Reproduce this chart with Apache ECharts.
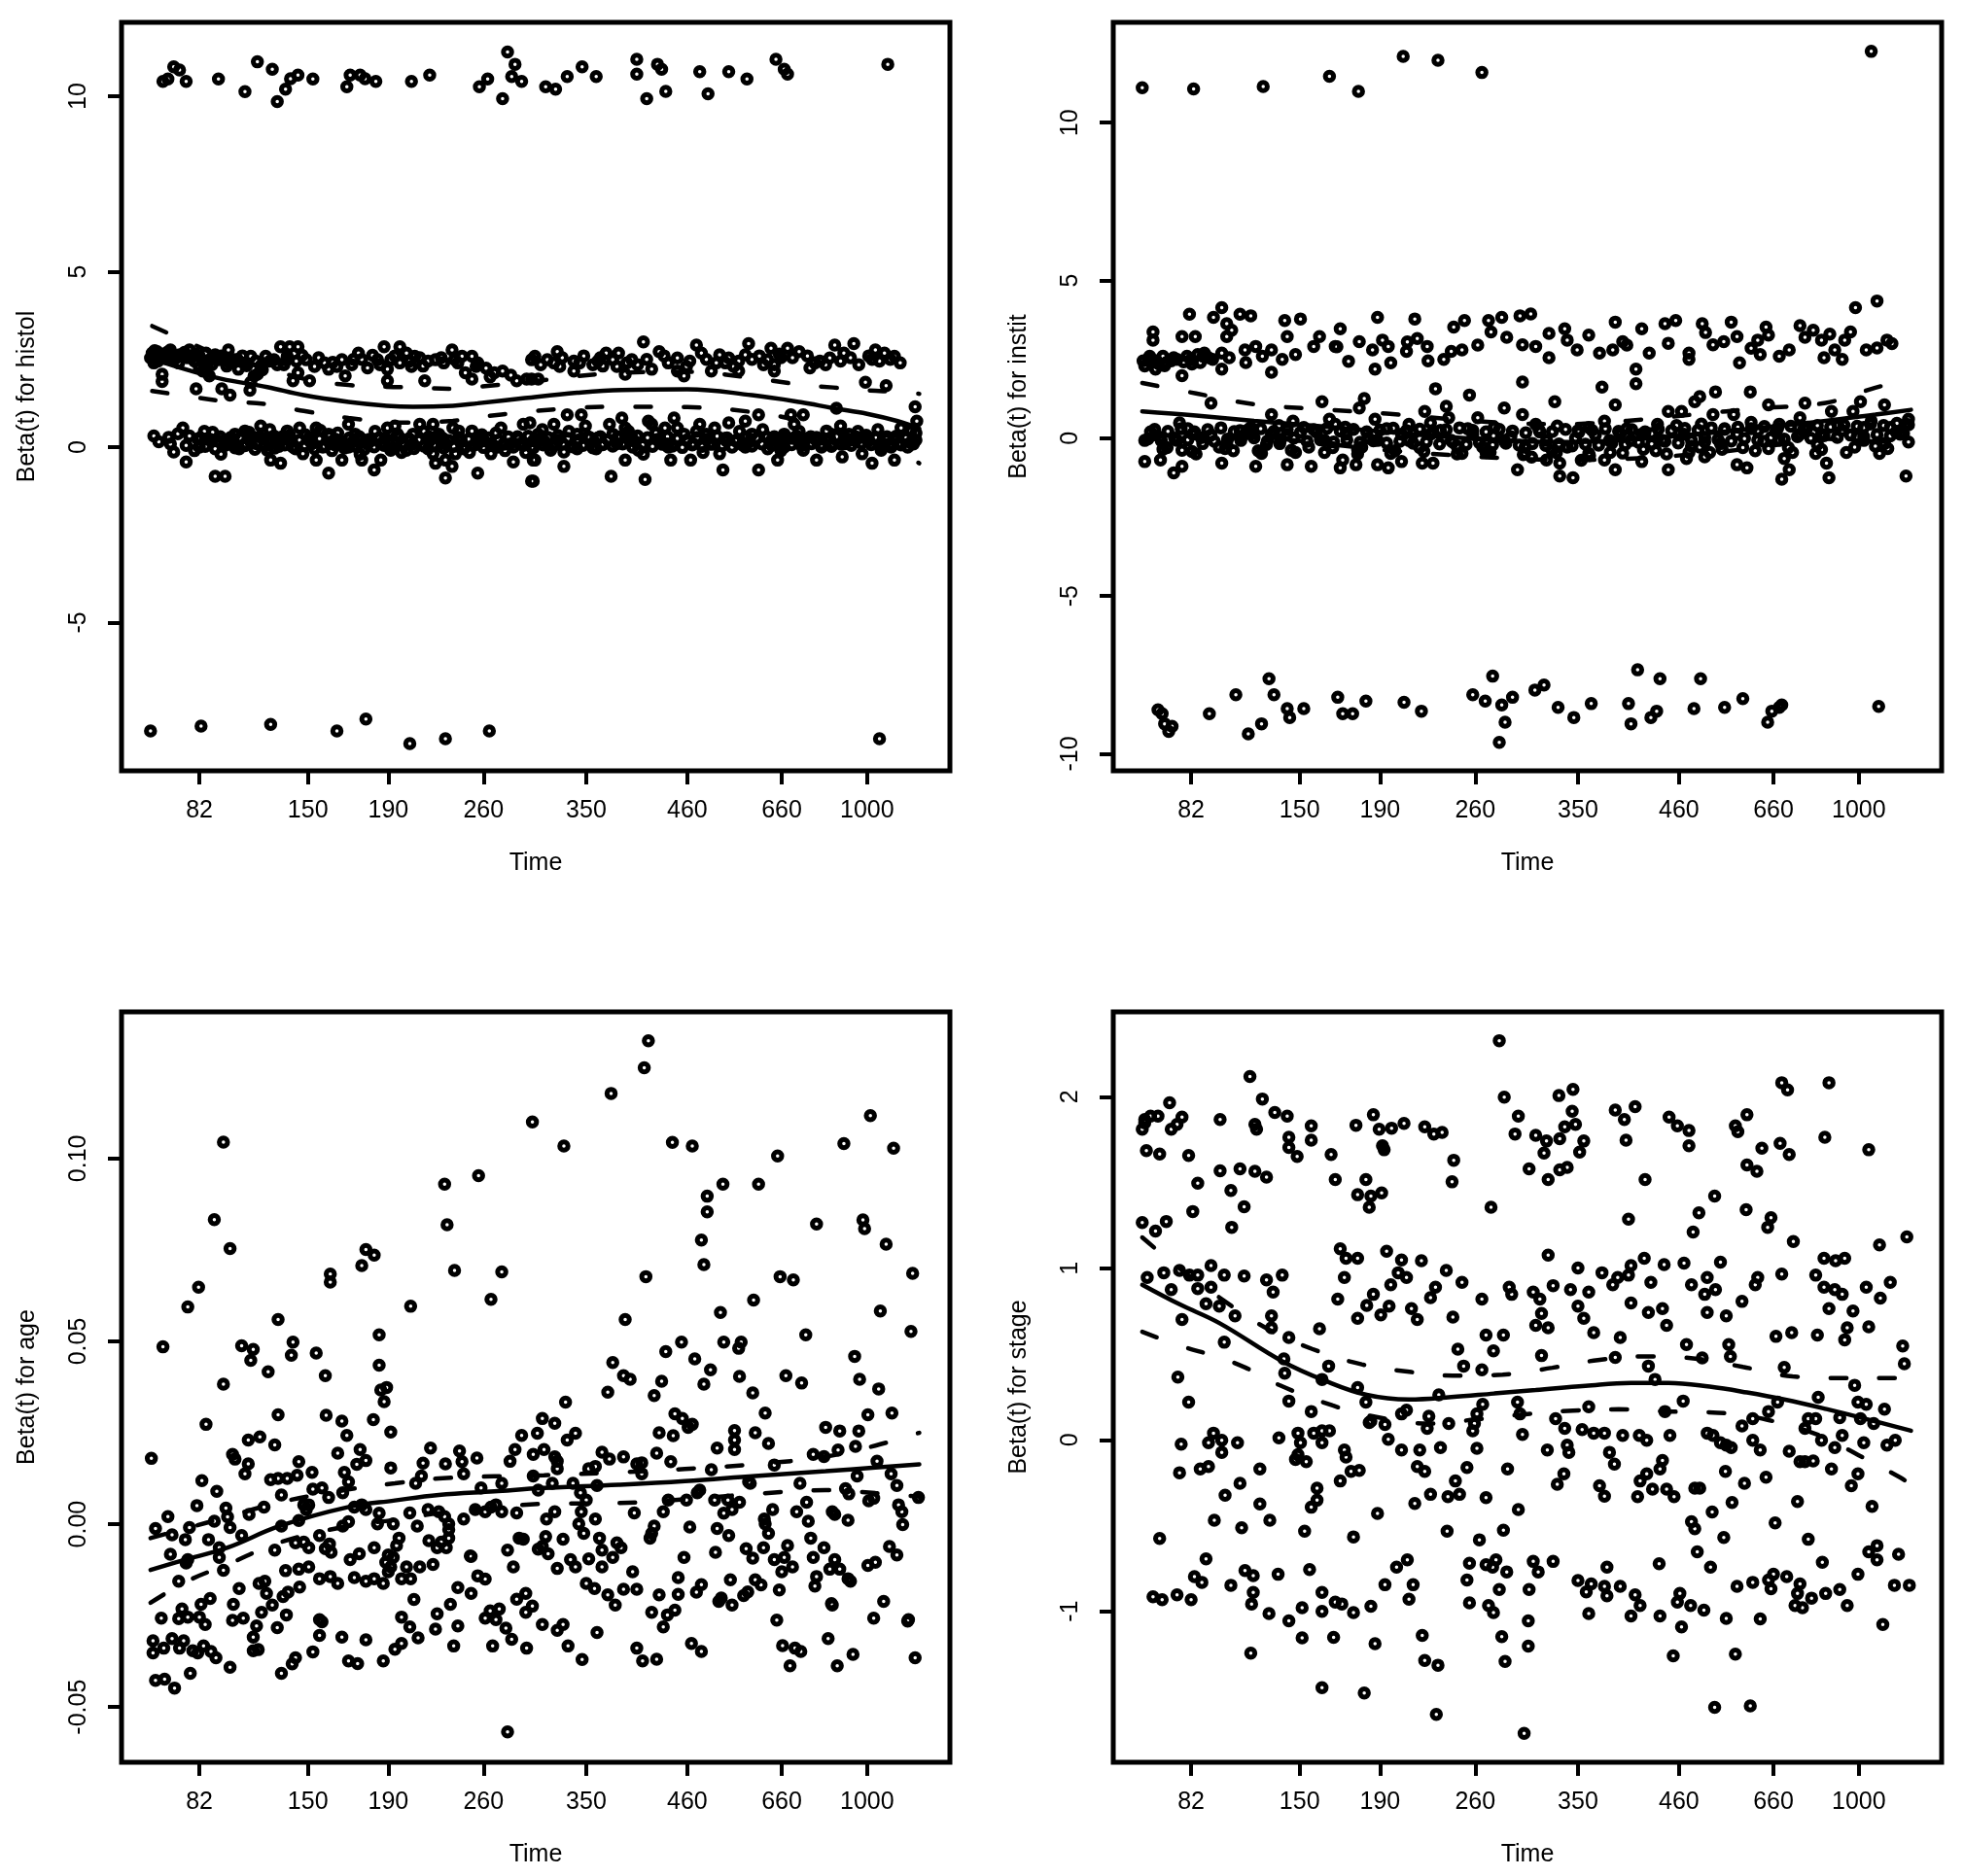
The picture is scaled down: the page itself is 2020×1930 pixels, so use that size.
<!DOCTYPE html>
<html>
<head>
<meta charset="utf-8">
<script src="https://cdn.jsdelivr.net/npm/echarts@6/dist/echarts.min.js"></script>
<style>
  html, body { margin: 0; padding: 0; background: #fff; }
  #zph { width: 2020px; height: 1930px; }
</style>
</head>
<body>
<div id="zph"></div>
<script>
// x axis is the transformed time scale (0..100 across the plot box)
const xTickPos = [9.4, 22.5, 32.2, 43.7, 56.1, 68.3, 79.7, 90.0];
const xTickLabels = ['82', '150', '190', '260', '350', '460', '660', '1000'];

// ---- histol ----
const histolTicks = [-5, 0, 5, 10];
const histolPoints = [
  [5.0,10.42],[5.6,10.49],[6.3,10.84],[7.0,10.75],[7.8,10.42],[11.7,10.49],[14.9,10.13],[16.4,10.98],[18.2,10.77],[18.8,9.85],
  [19.8,10.2],[20.4,10.5],[21.3,10.6],[23.1,10.49],[27.2,10.27],[27.6,10.6],[28.8,10.6],[29.4,10.5],[30.7,10.42],[35.0,10.42],
  [37.2,10.6],[43.2,10.27],[44.2,10.49],[46.6,11.26],[47.5,10.91],[47.1,10.56],[48.3,10.42],[46.0,9.93],[51.2,10.27],[52.4,10.2],
  [53.8,10.56],[55.6,10.84],[57.3,10.56],[62.2,11.05],[62.2,10.63],[63.4,9.93],[64.7,10.91],[65.2,10.77],[65.7,10.14],[69.8,10.7],
  [70.8,10.07],[73.3,10.7],[75.5,10.49],[79.0,11.05],[80.0,10.77],[80.4,10.63],[92.5,10.91],
  [3.5,-8.09],[9.6,-7.95],[18.0,-7.9],[26.0,-8.09],[29.5,-7.75],[34.8,-8.45],[39.1,-8.31],[44.4,-8.09],[91.5,-8.31],
  [3.7,2.68],[4.3,2.72],[5.1,2.59],[5.9,2.77],[4.9,2.08],[4.9,1.87],[8.2,2.77],[8.4,2.54],[9.4,2.59],[9.4,2.26],
  [10.4,2.40],[11.7,2.49],[12.9,2.77],[13.5,2.49],[12.7,2.31],[14.1,2.22],[14.9,2.40],[15.6,2.59],[16.0,2.03],[16.8,2.31],
  [17.4,2.59],[18.4,2.49],[19.2,2.86],[20.0,2.59],[20.3,2.86],[21.3,2.86],[21.1,2.45],[21.3,2.12],[22.3,2.49],[20.7,1.89],
  [22.7,1.89],[24.5,2.40],[25.0,2.22],[26.6,2.49],[27.0,2.03],[28.6,2.68],[29.7,2.26],[30.9,2.49],[31.7,2.86],[32.5,2.49],
  [32.1,2.22],[32.1,1.89],[33.6,2.86],[34.4,2.68],[33.6,2.40],[35.4,2.59],[36.4,2.31],[37.0,2.45],[37.9,2.49],[36.6,1.89],
  [39.9,2.77],[41.1,2.59],[42.3,2.59],[41.5,2.12],[42.3,1.94],[45.0,2.12],[46.0,2.17],[47.7,1.89],[48.9,1.94],[49.9,2.59],
  [9.0,1.66],[12.1,1.66],[13.1,1.48],[15.5,1.62],[3.5,2.54],[3.9,2.40],[6.3,2.49],[7.0,2.63],[10.2,2.68],[11.3,2.63],
  [9.8,2.17],[10.6,2.03],[15.6,1.85],[16.4,2.08],
  [4.0,2.75],[4.6,2.6],[5.5,2.7],[6.6,2.55],[7.6,2.7],[8.8,2.45],[10.9,2.55],[12.3,2.5],[14.6,2.6],[17.9,2.45],
  [19.6,2.35],[23.3,2.3],[26.0,2.3],[28.0,2.5],[31.2,2.35],[35.0,2.3],[38.6,2.55],[40.6,2.4],[43.0,2.4],[44.5,2.0],
  [49.5,2.49],[51.4,2.49],[52.6,2.72],[52.2,2.40],[54.6,2.45],[54.6,2.17],[56.9,2.35],[58.1,2.31],[58.5,2.68],[59.3,2.49],
  [60.0,2.68],[60.8,2.08],[61.6,2.49],[63.0,3.00],[64.0,2.22],[64.9,2.72],[67.1,2.54],[67.1,2.17],[67.9,2.03],[69.4,2.91],
  [70.0,2.68],[71.2,2.17],[72.2,2.63],[73.3,2.54],[74.5,2.45],[74.5,2.17],[75.7,2.95],[75.3,2.63],[78.4,2.82],[78.0,2.49],
  [78.8,2.35],[78.8,2.17],[80.4,2.82],[81.8,2.72],[83.1,2.26],[84.3,2.45],[85.5,2.54],[86.1,2.91],[87.2,2.68],[88.4,2.95],
  [89.0,2.35],[91.0,2.77],[92.1,2.68],[93.3,2.59],[89.8,1.85],[92.3,1.75],[95.8,1.15],[49.5,1.94],[50.3,1.94],
  [50.6,2.35],[53.2,2.55],[55.8,2.6],[57.5,2.45],[62.3,2.35],[66.0,2.4],[68.6,2.45],[71.8,2.4],[73.9,2.3],[77.0,2.6],
  [79.6,2.55],[82.8,2.6],[86.8,2.45],[90.2,2.6],[91.5,2.45],
  [3.9,0.32],[5.7,0.28],[6.3,-0.14],[7.4,0.55],[8.2,0.32],[7.8,-0.42],[7.8,0.05],[9.2,0.23],[11.0,0.42],[11.3,-0.83],
  [12.5,-0.83],[13.7,0.37],[14.9,0.46],[16.0,0.28],[16.8,0.60],[17.2,0.23],[17.6,-0.09],[18.0,-0.37],[19.2,-0.46],[18.8,0.18],
  [20.0,0.46],[20.3,0.18],[21.5,0.55],[21.9,-0.19],[23.5,0.55],[23.5,-0.37],[25.0,0.37],[25.0,-0.74],[26.6,0.09],[26.6,-0.37],
  [27.4,0.65],[28.2,0.37],[29.0,-0.37],[29.7,0.09],[30.5,-0.65],[30.1,0.18],[31.3,-0.37],[32.1,0.55],[33.3,0.37],[34.0,0.09],
  [35.2,0.37],[36.0,0.65],[37.2,0.18],[37.6,0.65],[38.3,0.37],[37.6,-0.19],[37.9,-0.46],[39.1,-0.37],[39.1,-0.88],[40.3,-0.19],
  [39.9,-0.55],[40.7,0.46],[42.3,0.46],[43.0,-0.74],[43.8,0.18],[44.6,-0.19],[45.8,0.55],[46.9,0.09],[47.3,-0.42],[48.5,0.65],
  [49.7,0.18],[49.7,-0.37],[49.5,-0.97],[11.7,0.18],[12.9,0.09],[14.9,0.09],[18.4,0.32],[20.7,0.0],[22.7,0.18],[24.3,0.0],
  [25.8,0.23],[27.4,0.0],[29.0,0.23],[31.3,0.09],[32.5,-0.09],[34.4,-0.09],[35.2,0.09],[39.1,0.09],[41.5,0.0],[43.0,0.09],
  [45.4,0.0],[48.1,0.09],[10.2,0.23],[9.4,0.0],[5.9,0.09],
  [4.5,0.15],[6.8,0.38],[8.8,-0.1],[10.0,0.45],[12.0,-0.2],[13.2,0.28],[14.2,-0.05],[15.4,0.42],[16.3,0.1],[17.9,0.5],
  [19.0,0.02],[19.6,0.32],[21.0,-0.05],[22.2,0.35],[23.0,0.1],[24.0,0.48],[25.4,-0.1],[26.1,0.4],[27.9,0.15],[28.8,-0.2],
  [30.6,0.45],[31.8,0.25],[33.0,0.6],[33.8,-0.15],[34.8,0.2],[36.5,0.45],[37.0,-0.05],[38.8,0.25],[40.0,0.55],[41.0,0.2],
  [42.0,-0.15],[43.5,0.35],[44.5,0.1],[45.2,0.4],[46.3,-0.1],[47.8,0.3],[48.8,-0.15],
  [49.3,0.69],[49.5,0.0],[49.9,-0.37],[50.3,0.37],[51.8,-0.09],[52.2,0.65],[53.4,-0.14],[53.8,0.92],[55.5,0.92],[55.0,0.37],
  [57.3,-0.05],[58.9,0.65],[59.3,0.37],[60.4,0.83],[60.8,0.55],[60.8,-0.37],[62.4,-0.09],[63.6,0.74],[64.0,0.65],[65.1,0.18],
  [66.3,-0.37],[66.7,0.83],[67.1,0.55],[67.9,0.37],[68.7,-0.37],[69.8,0.65],[71.0,0.09],[72.2,-0.19],[72.6,-0.65],[73.3,0.69],
  [74.1,0.18],[75.3,0.74],[76.1,0.37],[76.9,0.92],[76.9,-0.65],[78.0,-0.05],[79.2,-0.37],[80.0,0.37],[80.8,0.92],[81.2,0.65],
  [82.3,0.92],[82.3,-0.09],[83.9,-0.37],[83.9,0.18],[85.1,0.46],[86.3,1.11],[87.0,-0.28],[87.8,0.37],[89.4,-0.19],[90.2,0.18],
  [90.6,-0.46],[91.7,-0.09],[92.9,0.0],[93.3,-0.37],[94.1,0.55],[95.3,0.46],[96.0,0.74],[95.6,0.09],[59.1,-0.83],[63.2,-0.92],
  [49.7,-0.97],[53.4,-0.55],[93.3,0.23],[51.0,0.18],[56.5,0.28],[58.1,0.09],[61.6,0.28],[65.9,0.09],[69.0,0.09],[70.6,0.37],
  [73.0,0.18],[75.3,0.0],[78.4,0.18],[80.0,0.0],[82.0,0.18],[85.9,0.09],[88.6,0.18],[91.0,0.28],[94.9,0.0],
  [50.8,0.5],[52.7,0.2],[54.0,0.45],[55.0,-0.05],[56.0,0.6],[57.8,0.3],[59.8,0.1],[61.2,0.45],[62.0,0.15],[63.0,-0.2],
  [64.5,0.4],[65.6,0.55],[66.0,0.0],[68.2,0.2],[69.4,0.45],[70.2,-0.15],[71.6,0.55],[72.8,0.25],[74.6,0.45],[75.8,0.15],
  [77.4,0.5],[78.8,0.3],[79.6,-0.1],[81.0,0.25],[81.8,0.45],[83.2,0.3],[84.5,0.0],[85.5,0.25],[86.8,0.6],[87.4,0.1],
  [88.9,0.45],[89.8,0.25],[91.3,0.5],[92.4,0.3],[93.8,0.1],[94.6,0.3],[95.9,0.4]
];
// tightly packed points forming the solid black cores of the two histol bands
const histolCorePoints = [
  [9.5,0.27],[10.7,0.22],[11.9,0.3],[13.1,0.2],[14.3,0.26],[15.5,0.18],[16.7,0.3],[17.9,0.22],[19.1,0.27],[20.3,0.33],
  [21.5,0.2],[22.7,0.28],[23.9,0.24],[25.1,0.31],[26.3,0.19],[27.5,0.26],[28.7,0.3],[29.9,0.22],[31.1,0.27],[32.3,0.2],
  [33.5,0.29],[34.7,0.24],[35.9,0.21],[37.1,0.3],[38.3,0.25],[39.5,0.19],[40.7,0.28],[41.9,0.23],[43.1,0.3],[44.3,0.26],
  [45.5,0.2],[46.7,0.29],[47.9,0.24],[49.1,0.31],[50.3,0.22],[51.5,0.28],[52.7,0.33],[53.9,0.25],[55.1,0.2],[56.3,0.3],
  [57.5,0.26],[58.7,0.21],[59.9,0.29],[61.1,0.24],[62.3,0.32],[63.5,0.27],[64.7,0.22],[65.9,0.3],[67.1,0.25],[68.3,0.2],
  [69.5,0.28],[70.7,0.23],[71.9,0.31],[73.1,0.26],[74.3,0.21],[75.5,0.3],[76.7,0.25],[77.9,0.29],[79.1,0.22],[80.3,0.27],
  [81.5,0.32],[82.7,0.24],[83.9,0.28],[85.1,0.21],[86.3,0.3],[87.5,0.25],[88.7,0.29],[89.9,0.34],[91.1,0.27],[92.3,0.22],
  [93.5,0.31],[94.7,0.26],[95.9,0.2],
  [10.1,0.02],[11.3,-0.05],[12.5,0.05],[13.7,-0.02],[14.9,0.04],[16.1,-0.06],[17.3,0.03],[18.5,-0.03],[19.7,0.06],[20.9,-0.01],
  [22.1,0.04],[23.3,-0.05],[24.5,0.02],[25.7,0.07],[26.9,-0.03],[28.1,0.03],[29.3,-0.06],[30.5,0.01],[31.7,0.05],[32.9,-0.02],
  [34.1,0.04],[35.3,-0.04],[36.5,0.03],[37.7,0.06],[38.9,-0.03],[40.1,0.02],[41.3,-0.05],[42.5,0.05],[43.7,-0.01],[44.9,0.04],
  [46.1,0.08],[47.3,0.0],[48.5,0.05],[49.7,-0.03],[50.9,0.06],[52.1,0.02],[53.3,0.09],[54.5,0.01],[55.7,0.05],[56.9,-0.02],
  [58.1,0.07],[59.3,0.03],[60.5,0.09],[61.7,0.0],[62.9,0.06],[64.1,0.02],[65.3,0.08],[66.5,0.03],[67.7,-0.01],[68.9,0.06],
  [70.1,0.02],[71.3,0.08],[72.5,0.04],[73.7,0.0],[74.9,0.07],[76.1,0.03],[77.3,0.09],[78.5,0.05],[79.7,0.01],[80.9,0.07],
  [82.1,0.04],[83.3,0.1],[84.5,0.06],[85.7,0.02],[86.9,0.08],[88.1,0.05],[89.3,0.11],[90.5,0.07],[91.7,0.03],[92.9,0.1],
  [94.1,0.06],[95.3,0.12],
  [4.4,2.45],[5.4,2.52],[6.1,2.62],[6.9,2.4],[7.9,2.55],[8.9,2.65],[9.9,2.45],[10.9,2.35],[12.0,2.6],[13.0,2.42],
  [14.0,2.5],[15.1,2.32],[16.2,2.45],[17.0,2.2],[18.8,2.35],[19.9,2.48],[21.8,2.62],[23.8,2.55],[25.5,2.42],[27.8,2.35],
  [29.0,2.5],[30.3,2.62],[33.0,2.6],[34.8,2.45],[36.0,2.55],[38.9,2.4],[40.2,2.5],[42.8,2.3],[44.0,2.25],[47.0,2.05],
  [52.9,2.3],[55.3,2.4],[57.8,2.55],[59.8,2.3],[61.0,2.4],[63.4,2.5],[65.5,2.6],[68.2,2.3],[70.6,2.5],[72.9,2.4],
  [76.1,2.5],[77.5,2.35],[79.4,2.65],[81.0,2.55],[83.7,2.4],[85.0,2.35],[88.0,2.55],[90.6,2.5],[92.8,2.5],[94.0,2.4]
];
const histolFitX = [3.7, 8, 12, 17.6, 22, 27.4, 32, 35.2, 40, 43, 48.7, 55, 60.4, 68.3, 76.1, 82, 85.9, 90, 93.7, 96.3];
const histolFit = [2.52, 2.2, 1.95, 1.71, 1.48, 1.29, 1.18, 1.15, 1.18, 1.25, 1.40, 1.55, 1.63, 1.65, 1.48, 1.28, 1.11, 0.95, 0.74, 0.53];
const histolUpper = [3.45, 3.0, 2.6, 2.25, 1.95, 1.77, 1.72, 1.70, 1.66, 1.72, 1.85, 2.02, 2.12, 2.15, 1.97, 1.78, 1.70, 1.62, 1.57, 1.52];
const histolLower = [1.60, 1.45, 1.32, 1.22, 1.03, 0.83, 0.72, 0.70, 0.75, 0.85, 1.0, 1.12, 1.15, 1.14, 1.0, 0.75, 0.48, 0.2, -0.12, -0.46];

// ---- instit ----
const institTicks = [-10, -5, 0, 5, 10];
const institPoints = [
  [3.5,11.11],[9.7,11.07],[18.1,11.15],[26.1,11.47],[29.6,10.99],[35.0,12.1],[39.2,11.98],[44.5,11.59],[91.5,12.26],
  [5.4,-8.61],[5.9,-8.73],[6.2,-9.05],[6.7,-9.29],[7.1,-9.13],[11.6,-8.73],[14.8,-8.13],[16.3,-9.37],[17.9,-9.05],[18.8,-7.62],
  [19.4,-8.13],[21.0,-8.57],[21.3,-8.85],[23.0,-8.57],[27.1,-8.21],[27.7,-8.73],[28.9,-8.73],[30.5,-8.33],[35.1,-8.37],[37.2,-8.65],
  [43.4,-8.13],[44.9,-8.33],[45.8,-7.54],[46.9,-8.45],[46.6,-9.64],[47.3,-9.0],[48.2,-8.21],[50.9,-7.98],[52.0,-7.82],[53.7,-8.53],
  [55.6,-8.85],[57.7,-8.41],[62.2,-8.41],[62.5,-9.05],[63.3,-7.34],[64.9,-8.85],[65.6,-8.65],[66.0,-7.62],[70.1,-8.57],[70.9,-7.62],
  [73.8,-8.53],[76.0,-8.25],[79.0,-9.0],[79.5,-8.65],[80.4,-8.53],[80.7,-8.45],[92.4,-8.5],
  [4.8,3.37],[4.8,3.11],[3.8,2.29],[5.1,2.19],[6.4,2.4],[7.7,2.5],[8.9,2.6],[10.2,2.65],[11.5,2.55],[8.3,3.22],
  [9.9,3.22],[8.3,1.98],[9.2,3.93],[12.1,3.83],[13.1,4.14],[13.7,3.63],[14.3,3.42],[13.7,3.22],[15.3,3.93],[16.6,3.88],
  [15.9,2.80],[17.2,2.91],[13.1,2.70],[13.1,2.19],[19.1,2.80],[19.1,2.09],[20.7,3.73],[22.6,3.78],[21.0,3.22],[20.4,2.50],
  [22.0,2.65],[24.9,3.22],[24.2,2.91],[26.8,2.91],[27.4,3.47],[28.4,2.44],[29.7,3.06],[31.3,2.80],[31.9,3.83],[32.5,3.11],
  [33.2,2.91],[33.5,2.39],[31.6,2.19],[35.4,2.75],[36.4,3.78],[36.7,3.16],[37.9,2.91],[39.9,2.50],[40.8,2.75],[42.1,2.80],
  [41.1,3.52],[42.4,3.73],[45.3,3.73],[45.6,3.37],[46.9,3.83],[49.1,3.88],[50.4,3.94],[49.4,2.96],[51.0,2.91],[52.6,3.32],
  [52.6,2.55],[54.5,3.47],[54.8,3.11],[57.4,3.27],[58.7,2.70],[60.3,2.80],[60.6,3.68],[61.5,3.06],[63.8,3.47],[64.7,2.70],
  [67.0,3.01],[66.6,3.63],[67.9,3.73],[69.5,2.70],[69.5,2.50],[71.1,3.63],[72.4,2.96],[73.7,3.06],[74.6,3.68],[75.3,3.22],
  [75.6,2.39],[77.8,3.11],[79.1,3.27],[78.8,3.52],[78.1,2.65],[80.4,2.60],[81.6,2.80],[82.9,3.57],[84.5,3.42],[85.5,3.11],
  [85.8,2.55],[87.1,2.80],[88.0,2.50],[88.3,3.11],[89.0,3.37],[89.6,4.14],[92.2,4.35],[90.9,2.80],[92.2,2.86],[93.4,3.11],
  [63.1,2.19],[63.1,1.73],[49.4,1.78],[59.0,1.62],[38.9,1.57],[43.0,1.37],
  [4.2,2.5],[5.5,2.35],[6.0,2.6],[7.0,2.45],[9.5,2.35],[10.8,2.6],[12.0,2.5],[14.0,2.55],[16.0,2.4],[18.0,2.6],
  [27.0,2.9],[38.0,2.45],[44.0,2.95],[47.5,3.2],[56.0,2.8],[62.0,2.95],[71.5,3.35],[77.0,2.85],[83.5,3.2],[86.5,3.3],
  [94.0,3.0],[35.5,3.05],
  [11.8,1.11],[25.2,1.16],[30.3,1.26],[19.1,0.75],[8.0,0.49],[5.7,0.03],[7.7,-0.07],[3.8,-0.74],[5.7,-0.69],[7.3,-1.10],
  [8.3,-0.89],[8.3,-0.38],[10.8,-0.17],[13.7,-0.17],[13.1,-0.79],[15.3,0.24],[17.2,-0.89],[19.1,0.13],[20.1,-0.17],[21.0,-0.84],
  [21.7,0.54],[23.6,-0.28],[23.9,-0.89],[26.1,0.60],[27.7,-0.69],[27.4,-0.94],[29.3,-0.84],[29.7,0.96],[30.0,-0.28],[31.6,0.60],
  [31.9,-0.84],[33.2,-0.94],[34.8,-0.74],[34.8,0.13],[37.6,0.85],[38.3,0.49],[40.2,1.01],[40.5,0.65],[38.6,-0.79],[37.3,-0.79],
  [42.1,-0.48],[44.0,0.65],[45.9,0.08],[47.2,0.96],[48.8,-1.00],[49.4,0.75],[51.0,0.44],[53.6,0.39],[53.3,1.16],[53.9,-0.79],
  [55.5,-1.25],[53.9,-1.2],[57.4,0.34],[59.3,0.54],[60.6,1.06],[60.6,-1.0],[62.5,-0.07],[63.8,-0.74],[65.7,0.44],[67.0,0.85],
  [68.6,0.85],[70.2,1.16],[70.8,1.32],[72.4,0.75],[72.7,1.47],[73.3,-0.17],[67.0,-1.0],[69.2,-0.64],[71.4,-0.59],[74.9,0.75],
  [75.3,-0.84],[76.9,1.47],[76.5,-0.94],[79.1,1.06],[80.4,0.44],[81.0,-0.64],[80.7,-1.3],[81.6,-1.0],[82.9,0.65],[83.5,1.11],
  [86.4,-1.25],[86.1,-0.79],[86.7,0.85],[89.3,0.85],[90.2,1.16],[93.1,1.06],[93.8,0.34],[95.7,0.44],[95.7,-1.2],[96.0,-0.12],
  [92.5,-0.48],[90.6,-0.07],
  [3.8,-0.07],[9.6,0.13],[12.8,-0.28],[15.3,0.03],[17.9,-0.48],[21.0,0.13],[23.0,0.34],[25.5,-0.07],[28.1,0.13],[31.9,-0.07],
  [35.7,-0.07],[38.3,0.13],[40.8,-0.07],[43.4,0.13],[44.6,-0.28],[47.2,-0.07],[49.7,-0.28],[52.3,-0.07],[54.8,-0.28],[57.4,-0.48],
  [59.9,-0.07],[61.2,0.13],[63.8,0.13],[66.3,-0.07],[68.9,0.13],[71.4,0.03],[75.3,0.13],[77.8,0.24],[80.4,-0.07],[82.9,0.13],
  [85.5,0.13],[88.0,0.24],[90.6,0.34],[93.1,-0.17],[95.0,0.13],[49.7,-0.48],[52.3,-0.69],[59.3,-0.69],[70.8,-0.28],[79.1,-0.33],
  [84.8,-0.48],[16.6,0.34],[26.8,0.44],[35.7,0.44],[56.1,0.24],
  [4.5,0.2],[6.5,-0.3],[9.0,0.3],[10.0,-0.5],[11.8,0.1],[14.5,-0.4],[16.0,0.15],[18.5,-0.2],[20.0,0.4],[22.0,-0.45],
  [24.5,0.2],[26.5,-0.3],[28.0,0.35],[29.5,-0.5],[30.8,0.0],[33.0,0.3],[34.0,-0.4],[36.2,0.15],[37.0,-0.3],[39.5,0.25],
  [41.5,-0.25],[42.8,0.3],[45.0,-0.45],[46.0,0.35],[48.0,0.05],[50.5,-0.6],[51.5,0.2],[53.0,-0.4],[55.8,0.0],[56.5,-0.7],
  [58.2,0.1],[60.0,-0.45],[62.0,0.3],[64.0,-0.35],[65.0,0.15],[66.8,-0.5],[68.0,0.4],[69.8,-0.25],[71.0,0.45],[72.0,-0.45],
  [73.8,0.3],[76.0,-0.3],[77.0,0.5],[78.5,-0.1],[80.0,0.2],[82.0,-0.45],[83.8,0.35],[85.0,-0.2],[87.5,0.4],[88.5,-0.45],
  [89.8,0.05],[91.5,0.55],[92.0,-0.25],[94.5,0.2],[96.0,0.6]
];
// tightly packed points forming the solid black core of the instit bands
const institCorePoints = [
  [5.0,0.28],[6.6,0.22],[8.2,0.3],[9.8,0.2],[11.4,0.27],[13.0,0.33],[14.6,0.21],[16.2,0.26],[17.8,0.3],[19.4,0.22],
  [21.0,0.28],[22.6,0.19],[24.2,0.27],[25.8,0.31],[27.4,0.23],[29.0,0.28],[30.6,0.2],[32.2,0.26],[33.8,0.32],[35.4,0.24],
  [37.0,0.29],[38.6,0.21],[40.2,0.27],[41.8,0.33],[43.4,0.25],[45.0,0.2],[46.6,0.28],[48.2,0.23],[49.8,0.17],[51.4,0.26],
  [53.0,0.21],[54.6,0.28],[56.2,0.19],[57.8,0.25],[59.4,0.3],[61.0,0.22],[62.6,0.27],[64.2,0.2],[65.8,0.29],[67.4,0.24],
  [69.0,0.31],[70.6,0.26],[72.2,0.33],[73.8,0.28],[75.4,0.35],[77.0,0.3],[78.6,0.37],[80.2,0.31],[81.8,0.38],[83.4,0.33],
  [85.0,0.4],[86.6,0.36],[88.2,0.42],[89.8,0.38],[91.4,0.45],[93.0,0.4],[94.6,0.47],[96.0,0.43],
  [4.2,-0.02],[5.8,-0.08],[7.4,0.0],[9.0,-0.05],[10.6,0.02],[12.2,-0.1],[13.8,-0.03],[15.4,-0.07],[17.0,0.01],[18.6,-0.09],
  [20.2,-0.04],[21.8,0.0],[23.4,-0.1],[25.0,-0.05],[26.6,-0.12],[28.2,-0.06],[29.8,-0.13],[31.4,-0.08],[33.0,-0.15],[34.6,-0.1],
  [36.2,-0.16],[37.8,-0.11],[39.4,-0.18],[41.0,-0.13],[42.6,-0.2],[44.2,-0.14],[45.8,-0.21],[47.4,-0.16],[49.0,-0.22],[50.6,-0.17],
  [52.2,-0.23],[53.8,-0.18],[55.4,-0.24],[57.0,-0.19],[58.6,-0.22],[60.2,-0.15],[61.8,-0.2],[63.4,-0.13],[65.0,-0.18],[66.6,-0.1],
  [68.2,-0.15],[69.8,-0.07],[71.4,-0.12],[73.0,-0.04],[74.6,-0.09],[76.2,-0.01],[77.8,-0.06],[79.4,0.02],[81.0,-0.03],[82.6,0.05],
  [84.2,0.0],[85.8,0.08],[87.4,0.03],[89.0,0.1],[90.6,0.05],[92.2,0.12],[93.8,0.07],[95.4,0.14],
  [6.0,-0.35],[9.5,-0.42],[13.5,-0.33],[17.5,-0.4],[21.5,-0.38],[25.5,-0.45],[29.5,-0.36],[33.5,-0.48],[37.5,-0.42],[41.5,-0.5],
  [45.5,-0.44],[49.5,-0.52],[53.5,-0.46],[57.5,-0.55],[61.5,-0.47],[65.5,-0.4],[69.5,-0.45],[73.5,-0.35],[77.5,-0.4],[81.5,-0.3],
  [85.5,-0.36],[89.5,-0.28],[93.5,-0.33],
  [3.6,2.45],[4.4,2.6],[5.2,2.45],[6.2,2.3],[7.3,2.55],[8.5,2.42],[9.4,2.5],[10.5,2.4],[11.0,2.7]
];
const institFitX = [3.5, 10, 17, 25, 33, 40, 48, 55, 62, 70, 78, 86, 92, 96.3];
const institFit = [0.85, 0.72, 0.55, 0.38, 0.2, 0.05, -0.08, -0.12, -0.05, 0.12, 0.33, 0.55, 0.75, 0.9];
const institUpper = [1.75, 1.42, 1.08, 0.92, 0.78, 0.62, 0.48, 0.45, 0.55, 0.75, 0.95, 1.12, 1.6, 1.88];
const institLower = [-0.05, 0.02, 0.02, -0.16, -0.38, -0.52, -0.64, -0.69, -0.65, -0.51, -0.29, -0.02, -0.1, -0.08];

// ---- age ----
const ageTicks = [-0.05, 0, 0.05, 0.1];
const agePoints = [
  [63.6,0.1322],[63.1,0.1248],[59.1,0.1178],[49.6,0.1100],[53.4,0.1034],[12.3,0.1045],[43.1,0.0953],[39.0,0.0930],[11.2,0.0833],[39.3,0.0819],
  [13.1,0.0754],[29.5,0.0751],[30.5,0.0736],[29.0,0.0707],[25.2,0.0684],[25.2,0.0662],[40.2,0.0694],[45.9,0.0690],[9.3,0.0648],[8.0,0.0594],
  [34.9,0.0596],[18.9,0.0560],[44.6,0.0615],[60.8,0.0560],[63.3,0.0677],[66.5,0.1044],[68.9,0.1034],[79.2,0.1007],[72.6,0.0930],[76.9,0.0930],
  [70.7,0.0897],[70.7,0.0854],[70.0,0.0777],[70.3,0.0710],[83.9,0.0821],[87.2,0.1041],[90.4,0.1117],[93.2,0.1028],[89.5,0.0832],[89.7,0.0808],
  [92.3,0.0766],[95.5,0.0686],[95.3,0.0527],[91.6,0.0583],[79.5,0.0677],[81.1,0.0668],[76.3,0.0613],[72.3,0.0579],[82.6,0.0518],[67.6,0.0498],
  [72.7,0.0498],[74.8,0.0498],[74.5,0.0481],[65.7,0.0472],[88.5,0.0459],[69.2,0.0452],[59.3,0.0442],[71.1,0.0422],[80.2,0.0406],[89.1,0.0396],
  [74.6,0.0404],[65.2,0.0391],[60.6,0.0406],[61.4,0.0396],[70.3,0.0383],[82.1,0.0386],[91.4,0.0370],[76.2,0.0359],[58.7,0.0361],[64.3,0.0352],
  [77.7,0.0304],[90.1,0.0299],[93.0,0.0304],[66.8,0.0302],[67.7,0.0289],[68.4,0.0265],[68.9,0.0273],[64.9,0.0250],[66.6,0.0242],[85.0,0.0265],
  [86.7,0.0255],[74.0,0.0256],[76.5,0.0250],[74.0,0.0230],[89.0,0.0255],[78.1,0.0221],[71.9,0.0208],[74.0,0.0204],[88.6,0.0213],[86.5,0.0203],
  [91.2,0.0172],[78.8,0.0162],[83.5,0.0191],[84.8,0.0185],[71.2,0.0149],[75.7,0.0116],[81.9,0.0112],[88.8,0.0132],[92.9,0.0138],[93.6,0.0106],
  [87.4,0.0097],[87.8,0.0083],[96.2,0.0073],[93.8,0.0053],[94.2,0.0034],[94.3,-0.0001],[90.2,0.0064],[90.8,0.0071],[85.8,0.0034],[86.1,0.0027],
  [87.7,0.0011],[82.7,0.0060],[81.5,0.0034],[82.9,0.0008],[83.2,-0.0038],[78.6,0.0040],[77.6,0.0014],[77.7,0.0001],[78.1,-0.0025],[74.6,0.0060],
  [73.2,0.0066],[72.7,0.0030],[71.6,0.0066],[69.5,0.0086],[68.2,0.0066],[68.6,-0.0008],[71.9,-0.0012],[73.3,-0.0031],[71.7,-0.0077],[75.4,-0.0067],
  [76.2,-0.0093],[77.5,-0.0064],[80.4,-0.0058],[80.0,-0.0091],[78.8,-0.0097],[79.7,-0.0130],[81.0,-0.0117],[83.5,-0.0091],[84.8,-0.0064],[86.1,-0.0097],
  [85.5,-0.0123],[86.7,-0.0123],[87.7,-0.0149],[88.0,-0.0156],[83.9,-0.0143],[83.7,-0.0169],[90.1,-0.0113],[91.0,-0.0104],[92.7,-0.0061],[93.6,-0.0084],
  [92.0,-0.0211],[90.8,-0.0257],[95.0,-0.0261],[94.9,-0.0265],[95.8,-0.0365],[88.3,-0.0356],[86.4,-0.0387],[85.3,-0.0313],[85.8,-0.0221],[85.7,-0.0217],
  [81.3,-0.0339],[82.0,-0.0348],[79.8,-0.0332],[80.7,-0.0387],[79.1,-0.0262],[79.4,-0.0180],[77.2,-0.0166],[76.5,-0.0152],[75.6,-0.0185],[75.1,-0.0195],
  [73.5,-0.0152],[73.7,-0.0221],[72.1,-0.0211],[72.4,-0.0202],[70.0,-0.0165],[69.4,-0.0186],[67.2,-0.0146],[67.2,-0.0192],[64.9,-0.0193],[64.0,-0.0241],
  [65.9,-0.0248],[66.8,-0.0235],[65.4,-0.0281],[68.8,-0.0326],[70.0,-0.0348],[62.2,-0.0339],[62.9,-0.0374],[64.6,-0.0369],[62.2,-0.0178],[61.7,-0.0130],
  [60.6,-0.0178],[59.6,-0.0221],[58.7,-0.0193],[60.3,-0.0064],[59.3,-0.0091],[59.8,-0.0051],[57.7,-0.0038],[58.0,-0.0071],[56.1,-0.0162],[57.1,-0.0176],
  [58.0,-0.0117],[54.8,-0.0117],[56.4,-0.0095],[54.2,-0.0097],[52.6,-0.0121],[53.3,-0.0041],[50.8,-0.0060],[51.5,-0.0081],[50.3,-0.0068],[51.2,-0.0034],
  [51.3,0.0014],[52.3,0.0034],[55.5,0.0034],[55.2,0.0001],[55.8,-0.0025],[57.2,0.0014],[56.1,0.0066],[54.5,0.0112],[55.4,0.0086],[57.4,0.0106],
  [56.4,0.0152],[57.2,0.0158],[58.0,0.0197],[58.9,0.0178],[60.6,0.0184],[62.2,0.0165],[62.8,0.0138],[61.9,0.0031],[64.0,-0.0025],[64.3,-0.0005],
  [63.8,-0.0038],[65.4,0.0034],[67.9,-0.0091],[66.3,0.0171],[66.0,0.0066],[64.6,0.0194],[62.8,0.0168],[69.8,0.0093],[73.7,0.0040],[75.9,0.0112],
  [53.6,0.0334],[53.8,0.0230],[54.8,0.0249],[52.3,0.0276],[50.8,0.0289],[50.2,0.0249],[48.3,0.0243],[47.5,0.0204],[46.9,0.0172],[49.7,0.0191],
  [51.0,0.0204],[52.3,0.0184],[52.6,0.0172],[52.6,0.0152],[52.0,0.0112],[50.3,0.0093],[49.7,0.0132],[45.9,0.0112],[43.4,0.0099],[45.2,0.0053],
  [44.6,0.0047],[45.9,0.0034],[47.7,0.0031],[43.9,0.0034],[42.7,0.0040],[41.3,0.0014],[39.5,0.0001],[39.0,0.0021],[38.3,0.0034],[37.0,0.0040],
  [35.7,-0.0005],[34.8,0.0031],[39.5,-0.0015],[38.6,-0.0049],[37.1,-0.0045],[39.5,-0.0038],[39.2,-0.0064],[38.1,-0.0064],[42.1,-0.0087],[41.1,0.0171],
  [41.3,0.0138],[42.9,0.0181],[40.8,0.0200],[39.1,0.0165],[36.4,0.0167],[36.2,0.0132],[37.3,0.0208],[35.5,0.0112],[32.5,0.0154],[30.9,0.0001],
  [31.1,0.0030],[29.5,0.0040],[29.0,0.0053],[28.1,0.0047],[27.4,0.0007],[26.7,-0.0005],[32.8,0.0001],[33.5,-0.0038],[33.2,-0.0058],[32.2,-0.0084],
  [32.8,-0.0091],[31.9,-0.0104],[32.5,-0.0117],[32.2,-0.0130],[34.4,-0.0117],[36.0,-0.0117],[37.6,-0.0110],[34.9,-0.0149],[33.8,-0.0149],[31.6,-0.0162],
  [30.5,-0.0149],[29.5,-0.0156],[28.1,-0.0146],[26.1,-0.0162],[25.2,-0.0143],[23.9,-0.0149],[27.6,-0.0097],[28.7,-0.0081],[30.5,-0.0064],[22.6,-0.0117],
  [21.4,-0.0123],[19.8,-0.0127],[18.5,-0.0071],[19.3,-0.0005],[21.4,0.0010],[22.3,0.0040],[22.0,0.0053],[22.6,0.0053],[22.0,-0.0049],[22.6,-0.0064],
  [21.0,-0.0051],[23.9,-0.0031],[25.1,-0.0054],[25.3,-0.0077],[24.6,-0.0067],[24.2,0.0099],[25.0,0.0073],[26.7,0.0086],[27.4,0.0116],[26.9,0.0142],
  [28.4,0.0164],[28.8,0.0204],[29.5,0.0174],[26.1,0.0194],[27.2,0.0243],[26.6,0.0282],[24.7,0.0298],[30.4,0.0286],[32.5,0.0252],[31.7,0.0335],
  [31.3,0.0367],[32.0,0.0374],[31.1,0.0435],[31.1,0.0518],[24.6,0.0406],[23.5,0.0468],[20.7,0.0498],[20.5,0.0462],[18.9,0.0299],[18.5,0.0217],
  [17.7,0.0417],[15.6,0.0448],[15.9,0.0478],[14.5,0.0488],[12.3,0.0383],[10.2,0.0273],[16.7,0.0239],[15.3,0.0230],[13.4,0.0191],[13.7,0.0178],
  [15.3,0.0165],[14.9,0.0138],[18.9,0.0125],[18.0,0.0122],[19.3,0.0080],[20.0,0.0125],[21.4,0.0171],[21.2,0.0134],[23.0,0.0142],[23.1,0.0096],
  [5.0,0.0485],[3.6,0.0180],[9.7,0.0119],[11.5,0.0090],[9.1,0.0051],[5.6,0.0021],[4.1,-0.0012],[6.1,-0.0029],[8.2,-0.0009],[7.7,-0.0042],
  [10.5,-0.0042],[11.2,0.0008],[12.6,0.0044],[12.8,0.0020],[13.1,-0.0009],[11.8,-0.0064],[11.8,-0.0091],[12.3,-0.0126],[14.5,-0.0031],[15.4,0.0027],
  [17.2,0.0047],[5.9,-0.0082],[8.0,-0.0097],[7.8,-0.0106],[6.9,-0.0156],[9.6,-0.0219],[10.7,-0.0203],[13.5,-0.0219],[14.2,-0.0176],[13.4,-0.0263],
  [14.7,-0.0257],[16.6,-0.0162],[17.3,-0.0156],[17.5,-0.0189],[16.9,-0.0241],[16.3,-0.0278],[15.9,-0.0309],[15.9,-0.0346],[16.5,-0.0343],[18.8,-0.0283],
  [19.9,-0.0248],[18.2,-0.0221],[19.5,-0.0198],[20.1,-0.0186],[21.5,-0.0172],[4.8,-0.0257],[7.3,-0.0232],[6.9,-0.0258],[8.0,-0.0254],[9.4,-0.0254],
  [10.1,-0.0274],[3.8,-0.0319],[3.8,-0.0352],[5.1,-0.0339],[6.1,-0.0313],[7.0,-0.0339],[7.5,-0.0319],[8.6,-0.0346],[9.9,-0.0333],[10.8,-0.0348],
  [11.4,-0.0365],[9.2,-0.0352],[4.1,-0.0427],[5.2,-0.0424],[6.4,-0.0448],[8.3,-0.0408],[13.1,-0.0391],[19.3,-0.0408],[20.6,-0.0382],[21.0,-0.0365],
  [23.1,-0.0349],[23.9,-0.0261],[24.2,-0.0267],[23.9,-0.0304],[26.6,-0.0309],[29.5,-0.0316],[27.4,-0.0374],[28.5,-0.0381],[31.6,-0.0374],[33.0,-0.0342],
  [33.8,-0.0326],[35.3,-0.0206],[33.8,-0.0254],[34.8,-0.0281],[35.8,-0.0311],[38.1,-0.0245],[37.9,-0.0287],[39.7,-0.0219],[40.6,-0.0278],[40.1,-0.0333],
  [40.6,-0.0173],[42.2,-0.0189],[43.0,-0.0141],[43.9,-0.0150],[43.9,-0.0257],[44.5,-0.0237],[45.6,-0.0232],[45.2,-0.0261],[44.8,-0.0333],[46.4,-0.0284],
  [47.1,-0.0315],[48.9,-0.0339],[47.7,-0.0205],[48.8,-0.0189],[48.8,-0.0241],[49.6,-0.0224],[47.3,-0.0117],[46.6,-0.0071],[48.0,-0.0038],[48.5,-0.0041],
  [50.8,-0.0274],[52.6,-0.0290],[53.3,-0.0274],[53.9,-0.0333],[55.6,-0.0370],[57.4,-0.0296],[42.2,-0.0088],[46.6,-0.0568]
];
const ageFitX = [3.5, 8, 12.8, 19.1, 27.4, 33, 38.3, 45, 51, 60, 68, 76.5, 85, 91, 96.3];
const ageFit = [-0.0125, -0.0095, -0.0064, -0.0005, 0.0047, 0.0065, 0.0080, 0.0090, 0.0099, 0.0108, 0.0118, 0.0132, 0.0145, 0.0155, 0.0164];
const ageUpper = [-0.0038, -0.0010, 0.0020, 0.0060, 0.0095, 0.0112, 0.0125, 0.0131, 0.0134, 0.0142, 0.0151, 0.0164, 0.0185, 0.0215, 0.0250];
const ageLower = [-0.0215, -0.0155, -0.0110, -0.0050, -0.0005, 0.0012, 0.0030, 0.0045, 0.0056, 0.0058, 0.0068, 0.0083, 0.0093, 0.0085, 0.0075];

// ---- stage ----
const stageTicks = [-1, 0, 1, 2];
const stagePoints = [
  [46.6,2.327],[16.5,2.118],[18.0,1.987],[6.8,1.965],[47.2,1.998],[53.8,2.007],[55.5,2.043],[80.7,2.082],[81.4,2.040],[86.4,2.082],
  [3.8,1.867],[4.5,1.887],[5.4,1.887],[8.3,1.881],[7.7,1.839],[7.0,1.811],[3.5,1.811],[3.8,1.847],[12.9,1.867],[17.1,1.839],
  [17.3,1.811],[19.5,1.909],[21.0,1.887],[23.9,1.831],[23.9,1.747],[21.2,1.764],[21.2,1.705],[22.2,1.652],[26.3,1.663],[26.8,1.518],
  [29.3,1.834],[31.4,1.895],[32.1,1.811],[32.5,1.714],[32.7,1.691],[33.6,1.817],[35.1,1.845],[37.6,1.825],[38.7,1.783],[39.7,1.792],
  [41.1,1.630],[40.9,1.504],[30.5,1.518],[31.1,1.421],[30.9,1.356],[29.5,1.429],[32.4,1.440],[45.6,1.356],[48.9,1.887],[48.5,1.783],
  [51.0,1.775],[52.3,1.742],[52.0,1.672],[53.9,1.755],[54.5,1.825],[55.4,1.915],[55.8,1.839],[56.8,1.742],[56.3,1.677],[50.2,1.580],
  [52.5,1.518],[53.9,1.574],[54.8,1.588],[60.6,1.923],[61.7,1.867],[63.0,1.942],[61.9,1.747],[64.2,1.518],[62.2,1.287],[67.1,1.881],
  [68.1,1.831],[69.5,1.803],[69.5,1.714],[75.1,1.831],[75.4,1.797],[76.5,1.895],[78.3,1.700],[76.5,1.602],[77.7,1.566],[80.5,1.728],
  [81.6,1.663],[85.9,1.764],[91.2,1.691],[72.6,1.421],[70.7,1.323],[70.0,1.211],[76.4,1.342],[79.4,1.295],[79.0,1.239],[82.1,1.156],
  [92.5,1.136],[95.8,1.183],[10.2,1.496],[14.2,1.454],[15.8,1.359],[9.6,1.331],[14.3,1.239],[3.5,1.267],[5.1,1.217],[6.4,1.273],
  [4.0,1.686],[5.6,1.666],[9.1,1.658],[12.9,1.569],[15.3,1.580],[17.1,1.566],[18.5,1.532],
  [4.1,0.946],[6.1,0.974],[8.0,0.988],[9.2,0.960],[10.2,0.960],[11.8,1.016],[13.4,0.960],[15.8,0.955],[18.5,0.932],[20.4,0.960],
  [19.3,0.862],[7.0,0.876],[10.2,0.882],[11.8,0.890],[11.2,0.793],[12.8,0.779],[14.7,0.723],[8.3,0.701],[13.4,0.569],[19.1,0.723],
  [19.1,0.653],[21.2,0.597],[24.9,0.648],[27.4,1.114],[28.1,1.058],[29.5,1.058],[27.9,0.946],[27.1,0.820],[29.5,0.709],[30.6,0.784],
  [31.4,0.848],[33.0,1.100],[34.8,1.049],[33.5,0.904],[34.4,0.974],[35.4,0.946],[37.2,1.044],[32.3,0.728],[33.3,0.779],[36.0,0.765],
  [36.7,0.701],[38.3,0.829],[38.9,0.890],[40.2,0.988],[42.1,0.918],[41.0,0.715],[41.6,0.528],[44.5,0.820],[45.0,0.611],[47.1,0.611],
  [45.9,0.519],[47.8,0.890],[48.1,0.848],[50.7,0.862],[51.5,0.820],[51.7,0.737],[51.0,0.667],[52.5,0.653],[52.5,1.077],[53.1,0.899],
  [55.2,0.876],[56.1,1.002],[56.1,0.779],[57.4,0.862],[56.8,0.709],[58.0,0.625],[59.0,0.974],[60.3,0.904],[60.9,0.946],[62.2,0.960],
  [62.5,1.016],[64.1,1.058],[64.9,0.918],[66.5,1.022],[64.6,0.742],[66.3,0.765],[66.8,0.667],[61.2,0.597],[62.5,0.798],[68.9,1.030],
  [69.8,0.904],[71.4,0.848],[71.7,0.742],[72.7,0.876],[71.7,0.946],[73.3,1.036],[74.0,0.723],[75.9,0.807],[77.5,0.904],[77.8,0.946],
  [80.7,0.966],[80.0,0.603],[81.9,0.625],[85.0,0.611],[84.8,0.960],[85.8,1.058],[87.2,1.044],[88.3,1.058],[85.8,0.890],[87.1,0.876],
  [88.0,0.848],[86.4,0.765],[89.3,0.751],[88.6,0.653],[88.3,0.583],[91.2,0.659],[90.9,0.890],[92.6,0.826],[93.8,0.918],[95.3,0.547],
  [95.5,0.444],[69.2,0.555],[71.1,0.477],[74.3,0.555],[74.5,0.486],[81.0,0.422],
  [7.8,0.366],[9.1,0.220],[20.6,0.472],[20.7,0.388],[21.2,0.226],[25.2,0.352],[26.0,0.430],[23.9,0.165],[29.5,0.304],[30.5,0.220],
  [31.1,0.109],[32.8,0.089],[34.8,0.151],[35.4,0.173],[38.1,0.137],[37.9,0.067],[39.3,0.262],[40.5,0.095],[42.3,0.430],[44.5,0.408],
  [43.9,0.151],[44.6,0.207],[43.6,0.095],[43.4,0.053],[48.8,0.220],[49.1,0.151],[51.7,0.491],[53.4,0.123],[54.5,0.067],[56.6,0.059],
  [57.4,0.193],[58.0,0.039],[59.3,0.039],[60.6,0.480],[61.5,0.025],[63.5,0.025],[64.4,-0.003],[64.6,0.430],[65.4,0.352],[66.6,0.165],
  [67.2,0.025],[68.8,0.226],[71.7,0.039],[72.4,0.025],[73.3,-0.017],[74.6,-0.045],[75.9,0.081],[77.2,0.123],[79.1,0.165],[80.2,0.220],
  [83.9,0.123],[83.5,0.067],[84.8,0.123],[85.1,0.248],[85.5,-0.003],[87.7,0.129],[87.1,-0.045],[88.0,0.025],[89.5,0.318],[89.9,0.220],
  [90.9,0.207],[90.2,0.123],[91.8,0.095],[93.1,0.179],[90.6,-0.017],[93.4,-0.031],[94.4,-0.003],
  [8.2,-0.025],[8.0,-0.192],[10.5,-0.170],[11.5,-0.156],[11.5,-0.017],[12.1,0.039],[13.1,-0.003],[13.1,-0.073],[15.0,-0.017],[13.5,-0.323],
  [15.3,-0.254],[17.7,-0.170],[17.7,-0.374],[18.9,-0.469],[15.5,-0.513],[12.2,-0.469],[5.6,-0.575],[20.0,0.011],[22.3,0.039],[22.6,-0.017],
  [22.3,-0.087],[22.0,-0.114],[23.3,-0.128],[24.2,0.039],[25.2,0.053],[26.1,0.053],[25.2,-0.017],[27.9,-0.059],[28.1,-0.100],[28.7,-0.184],
  [29.7,-0.178],[27.4,-0.240],[24.6,-0.282],[24.6,-0.352],[23.9,-0.393],[23.1,-0.533],[29.0,-0.566],[31.9,-0.429],[30.9,0.101],[33.2,0.003],
  [34.8,-0.059],[37.0,-0.059],[36.7,-0.156],[37.6,-0.184],[36.4,-0.371],[38.3,-0.318],[39.5,-0.045],[40.4,-0.332],[41.3,-0.240],[41.8,-0.318],
  [42.7,-0.162],[43.9,-0.050],[45.0,-0.337],[47.6,-0.170],[48.9,-0.407],[47.1,-0.527],[40.3,-0.533],[44.2,-0.583],[49.4,0.031],[52.4,-0.059],
  [54.4,-0.198],[53.6,-0.259],[54.8,-0.031],[55.0,-0.073],[58.7,-0.268],[59.3,-0.329],[59.9,-0.073],[60.5,-0.142],[63.3,-0.332],[63.6,-0.240],
  [64.4,-0.198],[65.1,-0.287],[66.0,-0.170],[66.3,-0.120],[66.8,-0.287],[67.7,-0.332],[70.2,-0.282],[70.8,-0.282],[72.3,-0.421],[73.7,-0.569],
  [74.7,-0.365],[76.2,-0.254],[73.9,-0.184],[78.8,-0.218],[74.0,-0.031],[77.2,-0.003],[78.1,-0.059],[81.6,-0.067],[82.9,-0.128],[83.5,-0.128],
  [84.5,-0.123],[86.7,-0.170],[89.1,-0.268],[89.9,-0.198],[91.6,-0.388],[82.6,-0.360],[79.9,-0.485],[69.8,-0.477],[70.2,-0.519],[70.5,-0.653],
  [83.9,-0.580],
  [11.2,-0.694],[9.8,-0.798],[10.7,-0.831],[4.8,-0.915],[5.9,-0.932],[7.7,-0.904],[9.4,-0.932],[14.2,-0.848],[15.9,-0.762],[16.9,-0.792],
  [16.9,-0.890],[16.7,-0.957],[19.9,-0.784],[18.8,-1.013],[21.2,-1.055],[22.8,-0.979],[23.7,-0.756],[25.2,-0.890],[25.2,-1.000],[26.8,-0.946],
  [27.6,-0.957],[29.0,-1.007],[31.1,-0.971],[32.8,-0.845],[34.2,-0.742],[35.5,-0.700],[36.2,-0.845],[35.7,-0.929],[16.6,-1.244],[22.8,-1.155],
  [26.6,-1.152],[25.2,-1.445],[30.3,-1.476],[31.6,-1.189],[37.3,-1.141],[37.6,-1.286],[39.2,-1.314],[39.0,-1.601],[43.0,-0.720],[42.7,-0.817],
  [43.0,-0.951],[45.0,-0.728],[45.8,-0.742],[46.2,-0.700],[47.5,-0.770],[46.6,-0.873],[45.3,-0.966],[45.9,-1.007],[46.9,-1.147],[47.3,-1.292],
  [50.1,-1.055],[50.1,-1.203],[50.2,-0.873],[50.7,-0.709],[51.3,-0.770],[53.1,-0.709],[49.6,-1.711],[56.1,-0.820],[57.1,-0.887],[57.7,-0.840],
  [59.6,-0.742],[59.6,-0.910],[59.3,-0.854],[61.2,-0.854],[57.4,-1.013],[63.0,-0.904],[63.6,-0.966],[62.5,-1.027],[65.9,-0.722],[66.0,-1.027],
  [68.4,-0.896],[68.1,-0.946],[69.7,-0.966],[71.3,-0.993],[68.6,-1.091],[67.6,-1.259],[74.0,-1.041],[75.3,-0.854],[77.2,-0.831],[79.1,-0.817],
  [79.4,-0.868],[79.7,-0.784],[81.3,-0.798],[78.1,-1.044],[75.1,-1.250],[72.6,-1.560],[76.9,-1.551],[82.9,-0.840],[82.6,-0.896],[82.3,-0.966],
  [83.2,-0.979],[84.3,-0.923],[86.0,-0.896],[87.7,-0.873],[88.6,-0.966],[89.9,-0.784],[91.2,-0.653],[92.2,-0.617],[92.2,-0.700],[94.8,-0.667],
  [94.3,-0.848],[96.1,-0.848],[92.9,-1.077],[85.6,-0.714],[72.1,-0.742]
];
const stageFitX = [3.5, 8, 12.8, 20.4, 25.5, 30.6, 35.7, 40.8, 46, 51, 57, 62.5, 67, 72, 76.5, 81, 86.1, 91, 96.3];
const stageFit = [0.904, 0.79, 0.681, 0.458, 0.346, 0.262, 0.235, 0.249, 0.27, 0.29, 0.315, 0.332, 0.332, 0.31, 0.276, 0.235, 0.179, 0.12, 0.053];
const stageUpperX = [3.5, 8, 12.8, 18.5, 24, 30, 36, 41, 47, 53, 58.5, 64, 70, 76, 82, 88, 93.5, 96.3];
const stageUpper = [1.18, 1.0, 0.83, 0.65, 0.53, 0.44, 0.395, 0.374, 0.38, 0.42, 0.465, 0.486, 0.475, 0.425, 0.37, 0.36, 0.36, 0.36];
const stageLowerX = [3.5, 8, 12.8, 16, 20, 26.5, 31, 38, 44, 50, 55.5, 61, 67, 73, 79, 85, 90, 95, 96.3];
const stageLower = [0.63, 0.55, 0.48, 0.42, 0.32, 0.2, 0.14, 0.095, 0.12, 0.15, 0.17, 0.178, 0.165, 0.158, 0.116, 0.03, -0.09, -0.22, -0.26];

const font = '"Liberation Sans", Arial, Helvetica, sans-serif';
const zip = (xs, ys) => xs.map((x, i) => [x, ys[i]]);

const panels = [
  { left: 125,  top: 23,   height: 770, name: 'Beta(t) for histol', min: -9.224, max: 12.105, ticks: histolTicks, fmt: v => String(v),
    points: histolPoints.concat(histolCorePoints), fit: zip(histolFitX, histolFit), upper: zip(histolFitX, histolUpper), lower: zip(histolFitX, histolLower) },
  { left: 1145, top: 23,   height: 770, name: 'Beta(t) for instit', min: -10.54, max: 13.18, ticks: institTicks, fmt: v => String(v),
    points: institPoints.concat(institCorePoints), fit: zip(institFitX, institFit), upper: zip(institFitX, institUpper), lower: zip(institFitX, institLower) },
  { left: 125,  top: 1041, height: 772, name: 'Beta(t) for age', min: -0.0651, max: 0.1401, ticks: ageTicks, fmt: v => v.toFixed(2),
    points: agePoints, fit: zip(ageFitX, ageFit), upper: zip(ageFitX, ageUpper), lower: zip(ageFitX, ageLower) },
  { left: 1145, top: 1041, height: 772, name: 'Beta(t) for stage', min: -1.880, max: 2.495, ticks: stageTicks, fmt: v => String(v),
    points: stagePoints, fit: zip(stageFitX, stageFit), upper: zip(stageUpperX, stageUpper), lower: zip(stageLowerX, stageLower) }
];

const xLabel = v => {
  let best = 0;
  xTickPos.forEach((p, i) => { if (Math.abs(p - v) < Math.abs(xTickPos[best] - v)) best = i; });
  return xTickLabels[best];
};

const grid = [], xAxis = [], yAxis = [], series = [];
panels.forEach((p, i) => {
  grid.push({ left: p.left, top: p.top, width: 852, height: p.height, show: true,
    borderColor: '#000', borderWidth: 5, backgroundColor: 'transparent' });
  xAxis.push({
    gridIndex: i, type: 'value', min: 0, max: 100,
    axisLine: { show: false, onZero: false }, splitLine: { show: false },
    axisTick: { show: true, customValues: xTickPos, length: 14, lineStyle: { color: '#000', width: 4 } },
    axisLabel: { customValues: xTickPos, formatter: xLabel, margin: 29, fontSize: 25, color: '#000', fontFamily: font },
    name: 'Time', nameLocation: 'middle', nameGap: 83,
    nameTextStyle: { fontSize: 25, color: '#000', fontFamily: font }
  });
  yAxis.push({
    gridIndex: i, type: 'value', min: p.min, max: p.max,
    axisLine: { show: false, onZero: false }, splitLine: { show: false },
    axisTick: { show: true, customValues: p.ticks, length: 14, lineStyle: { color: '#000', width: 4 } },
    axisLabel: { customValues: p.ticks, formatter: p.fmt, rotate: 90, margin: 31, fontSize: 25, color: '#000', fontFamily: font },
    name: p.name, nameLocation: 'middle', nameGap: 84, nameRotate: 90,
    nameTextStyle: { fontSize: 25, color: '#000', fontFamily: font }
  });
  series.push({
    type: 'scatter', xAxisIndex: i, yAxisIndex: i, data: p.points,
    symbol: 'circle', symbolSize: 8.5, silent: true, z: 2,
    itemStyle: { color: 'rgba(0,0,0,0)', borderColor: '#000', borderWidth: 5, opacity: 1 }
  });
  const line = (data, dashed) => ({
    type: 'line', xAxisIndex: i, yAxisIndex: i, data: data, smooth: 0.4,
    showSymbol: false, silent: true, z: 3,
    lineStyle: { color: '#000', width: 4.5, type: dashed ? [16, 34] : 'solid', cap: 'round', opacity: 1 }
  });
  series.push(line(p.fit, false), line(p.upper, true), line(p.lower, true));
});

const chart = echarts.init(document.getElementById('zph'));
chart.setOption({ animation: false, backgroundColor: '#fff', grid, xAxis, yAxis, series });
</script>
</body>
</html>
